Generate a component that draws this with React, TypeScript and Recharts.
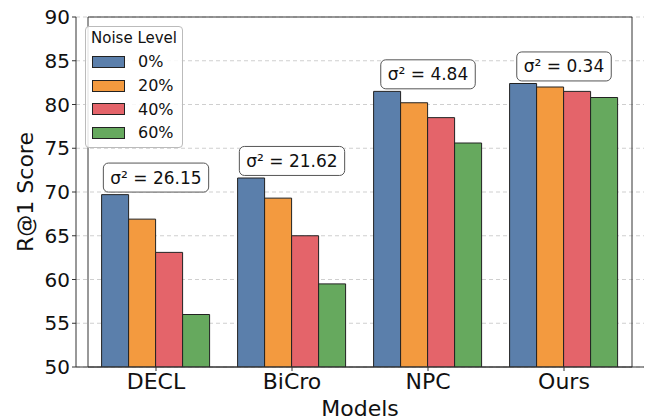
import React, { useLayoutEffect, useRef, useState } from "react";
import {
  Bar,
  BarChart,
  CartesianGrid,
  Legend,
  ReferenceArea,
  ReferenceDot,
  XAxis,
  YAxis,
} from "recharts";

const FONT = "'DejaVu Sans', sans-serif";

const models = ["DECL", "BiCro", "NPC", "Ours"];
const noise0 = [69.7, 71.6, 81.5, 82.4];
const noise20 = [66.9, 69.3, 80.2, 82.0];
const noise40 = [63.1, 65.0, 78.5, 81.5];
const noise60 = [56.0, 59.5, 75.6, 80.8];
const variances = ["26.15", "21.62", "4.84", "0.34"];
const yTicks = [50, 55, 60, 65, 70, 75, 80, 85, 90];

const series = [
  { key: "n0", name: "0%", color: "#5b7fab", values: noise0 },
  { key: "n20", name: "20%", color: "#f39a3f", values: noise20 },
  { key: "n40", name: "40%", color: "#e4646a", values: noise40 },
  { key: "n60", name: "60%", color: "#66a95e", values: noise60 },
];

const data = models.map((model, i) => {
  const row: Record<string, string | number> = { model };
  series.forEach((s) => (row[s.key] = s.values[i]));
  return row;
});

function VarianceTag({ cx, cy, text }: { cx: number; cy: number; text: string }) {
  const ref = useRef<SVGTextElement>(null);
  const [w, setW] = useState(90);
  useLayoutEffect(() => {
    if (ref.current) setW(ref.current.getBBox().width + 14);
  }, [text]);
  return (
    <g>
      <rect
        x={cx - w / 2}
        y={cy - 14.5}
        width={w}
        height={29}
        rx={5}
        fill="#fff"
        stroke="#555"
        strokeWidth={1}
      />
      <text
        ref={ref}
        x={cx}
        y={cy}
        textAnchor="middle"
        dominantBaseline="central"
        fontSize={17}
        fontFamily={FONT}
        fill="#111"
      >
        {text}
      </text>
    </g>
  );
}

function NoiseLegend() {
  return (
    <div
      style={{
        boxSizing: "border-box",
        width: 98,
        height: 122,
        border: "1px solid #bbb",
        borderRadius: 4,
        background: "rgba(255,255,255,0.85)",
        fontFamily: FONT,
        color: "#111",
      }}
    >
      <div style={{ textAlign: "center", fontSize: 15, lineHeight: "23px" }}>
        Noise Level
      </div>
      {series.map((s) => (
        <div
          key={s.key}
          style={{ display: "flex", alignItems: "center", height: 23.7 }}
        >
          <span
            style={{
              display: "inline-block",
              marginLeft: 6,
              width: 31,
              height: 10,
              background: s.color,
              border: "1px solid #222",
            }}
          />
          <span style={{ marginLeft: 13, fontSize: 16 }}>{s.name}</span>
        </div>
      ))}
    </div>
  );
}

export default function App() {
  return (
    <div style={{ position: "relative", width: 655, height: 420 }}>
      <style>{`body{margin:0}`}</style>
      <BarChart
        width={655}
        height={420}
        data={data}
        margin={{ top: 17, right: 11, bottom: 0, left: 0 }}
        barCategoryGap="10%"
        barGap={0}
      >
        <CartesianGrid
          vertical={false}
          stroke="#cfcfcf"
          strokeDasharray="4 3"
        />
        <XAxis
          dataKey="model"
          height={53}
          padding={{ left: 12, right: 12 }}
          tickSize={4}
          stroke="#333"
          tick={{ fontSize: 22, fill: "#111", fontFamily: FONT }}
          label={{
            value: "Models",
            position: "insideBottom",
            offset: 4,
            fontSize: 22,
            fill: "#111",
            fontFamily: FONT,
          }}
        />
        <YAxis
          width={76}
          domain={[50, 90]}
          ticks={yTicks}
          allowDataOverflow
          tickSize={4}
          stroke="#333"
          tick={{ fontSize: 20, fill: "#111", fontFamily: FONT }}
          label={{
            content: () => (
              <text
                x={25}
                y={192}
                transform="rotate(-90 25 192)"
                textAnchor="middle"
                dominantBaseline="central"
                fontSize={22}
                fontFamily={FONT}
                fill="#111"
              >
                R@1 Score
              </text>
            ),
          }}
        />
        <ReferenceArea y1={50} y2={90} fill="none" stroke="#333" strokeWidth={1} ifOverflow="visible" />
        <Legend
          layout="horizontal"
          align="center"
          verticalAlign="middle"
          wrapperStyle={{ left: 85, top: 26, width: 98, height: 122 }}
          content={() => <NoiseLegend />}
        />
        {series.map((s) => (
          <Bar
            key={s.key}
            dataKey={s.key}
            name={s.name}
            fill={s.color}
            stroke="#222"
            strokeWidth={1}
            isAnimationActive={false}
          />
        ))}
        {models.map((m, i) => (
          <ReferenceDot
            key={m}
            x={m}
            y={Math.max(noise0[i], noise20[i], noise40[i], noise60[i]) + 1.95}
            r={0}
            ifOverflow="visible"
            shape={(p: any) => (
              <VarianceTag cx={p.cx} cy={p.cy} text={`σ² = ${variances[i]}`} />
            )}
          />
        ))}
      </BarChart>
    </div>
  );
}
